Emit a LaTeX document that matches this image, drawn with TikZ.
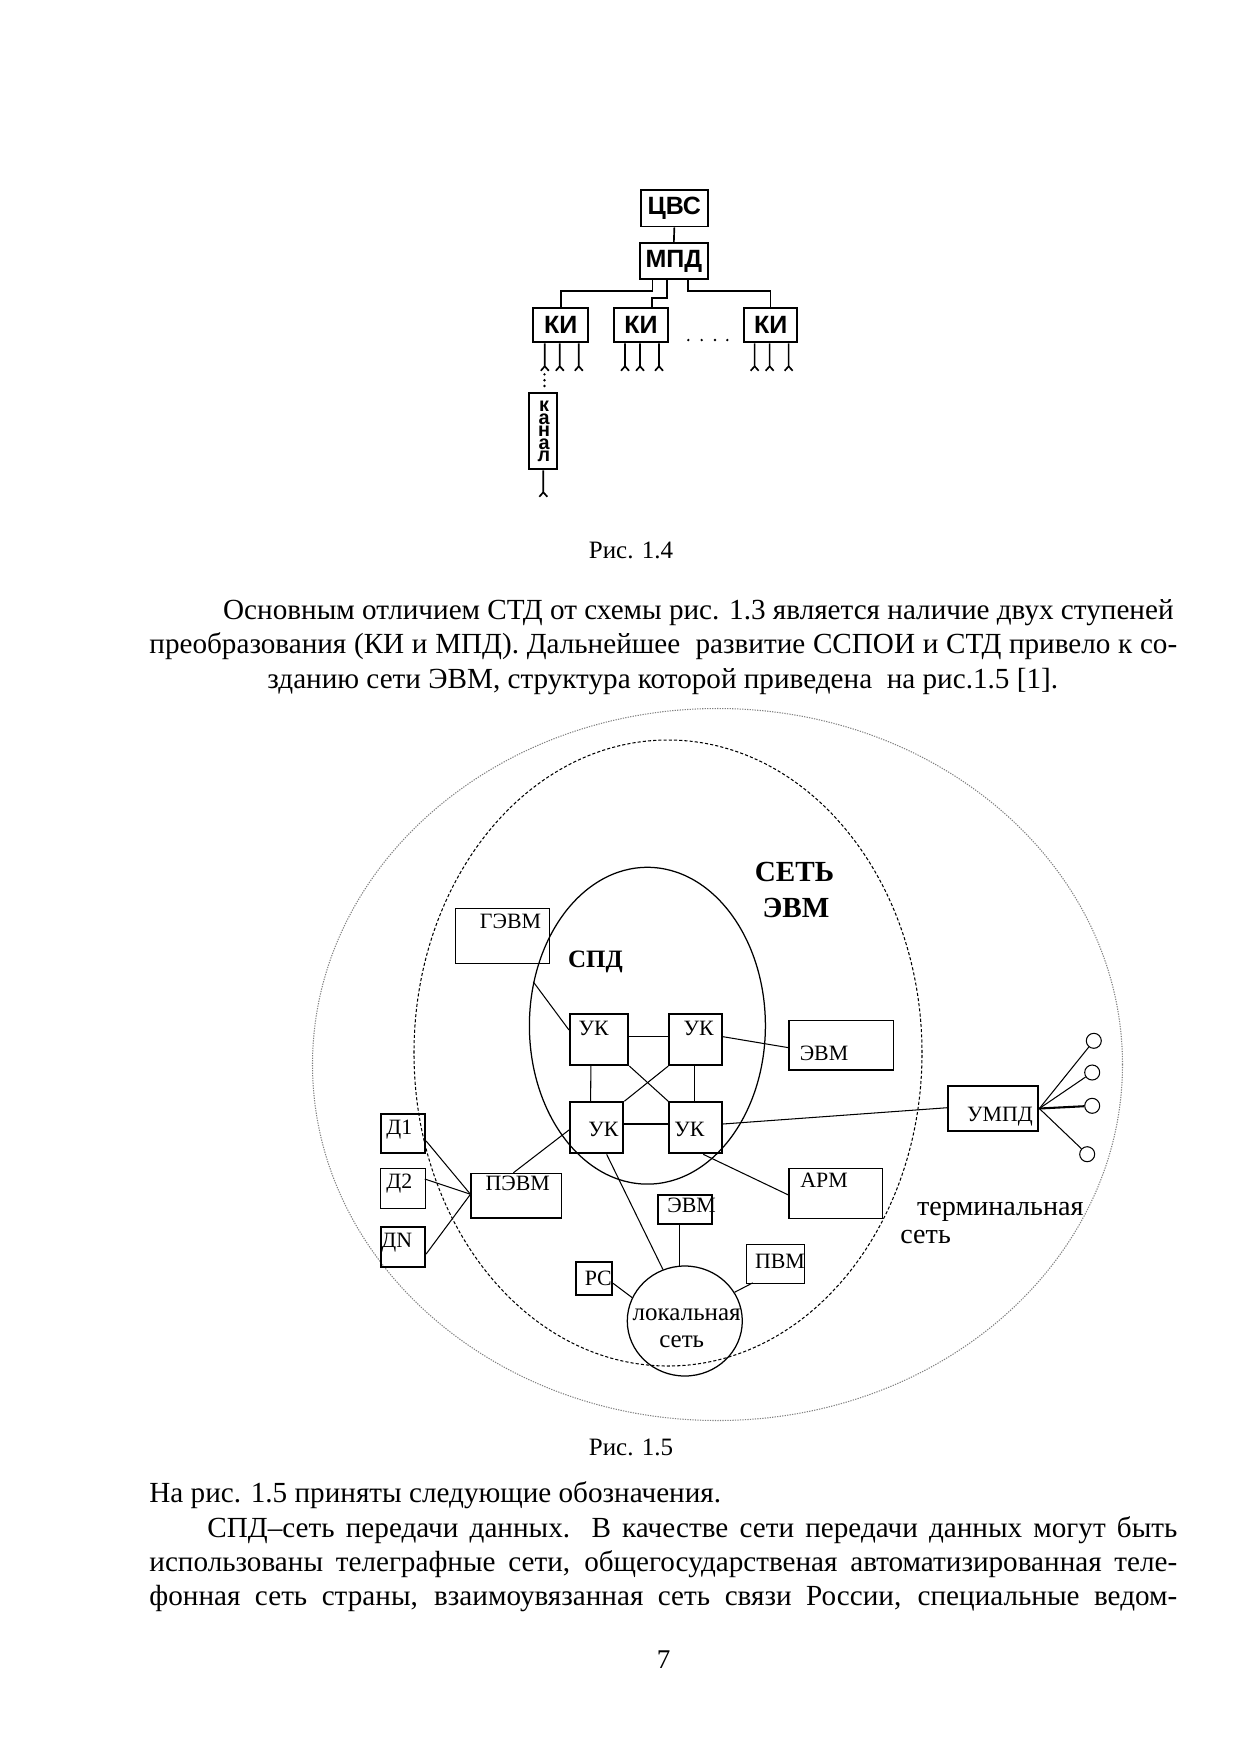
\documentclass[tikz,border=0pt]{standalone}
\usepackage{fontspec}
\setmainfont{Liberation Serif}
\newfontfamily\arialf{Liberation Sans}
\usetikzlibrary{shapes.geometric,fit,calc}
\begin{document}
\begin{tikzpicture}[x=0.48pt,y=-0.48pt,
  fbox/.style={draw,line width=0.9pt,inner sep=0pt},
  flbl/.style={inner sep=0pt,font=\arialf\bfseries\fontsize{12}{14}\selectfont},
  klbl/.style={inner sep=0pt,font=\arialf\bfseries\fontsize{9.5}{11}\selectfont},
  wire/.style={line width=0.8pt},
  box/.style={draw,line width=0.5pt,inner sep=0pt},
  ukbox/.style={draw,line width=1pt,inner sep=0pt},
  ln/.style={line width=0.5pt},
  lbl/.style={inner sep=0pt,font=\fontsize{10.5}{12}\selectfont},
  body/.style={inner sep=0pt,font=\fontsize{14}{16.6}\selectfont},
  term/.style={draw,circle,line width=0.5pt,inner sep=0pt,minimum size=7.2pt},
  dotc/.style={fill=black},
]
\fill[white] (0,0) rectangle (1240,1755);
\useasboundingbox (0,0) rectangle (1240,1755);

% ---------------- Fig 1.4 ----------------
\node[fbox, fit={(641,190) (707.7,226.5)}] (cvs) {};
\node[fbox, fit={(640,242.7) (707.7,279.3)}] (mpd) {};
\node[fbox, fit={(533.3,308.3) (588.3,342.3)}] (ki1) {};
\node[fbox, fit={(614.3,308.3) (667.7,342.3)}] (ki2) {};
\node[fbox, fit={(744,308.3) (797.3,342.3)}] (ki3) {};
\node[fbox, fit={(529.3,393.3) (557.3,469.3)}] (kanal) {};
\node[flbl] (lcvs) at (cvs.center) {ЦВС};
\node[flbl] (lmpd) at (mpd.center) {МПД};
\node[flbl] (lki1) at (ki1.center) {КИ};
\node[flbl] (lki2) at (ki2.center) {КИ};
\node[flbl] (lki3) at (ki3.center) {КИ};
\node[klbl] (k1) at (544,406.7) {к};
\node[klbl] (k2) at (544,419.3) {а};
\node[klbl] (k3) at (544,431.7) {н};
\node[klbl] (k4) at (544,444.3) {а};
\node[klbl] (k5) at (544,456.7) {л};

\draw[wire] (cvs.south) -- (mpd.north);
\draw[wire] ($(mpd.south)+(-21.2,0)$) -- ++(0,10.7) -| (ki1.north);
\draw[wire] ($(mpd.south)+(-6.85,0)$) -- ++(0,18) -| ($(ki2.north)+(11,0)$);
\draw[wire] ($(mpd.south)+(14.45,0)$) -- ++(0,10.7) -| (ki3.north);

\foreach \k in {ki1,ki2,ki3}{
  \foreach \dx in {-16,-1,18}{
    \draw[wire] ($(\k.south)+(\dx,0)$) -- ++(0,23) -- ++(-4,4.5) ++(4,-4.5) -- ++(4,4.5);
  }
}
\foreach \yy in {374.3,380.2,386}{\fill[dotc] (544.5,\yy) circle[radius=1.3];}
\foreach \xx in {688.3,701.7,715,727.3}{\fill[dotc] (\xx,340) circle[radius=1.3];}
\draw[wire] (kanal.south) -- ++(0,22) -- ++(-4,4.5) ++(4,-4.5) -- ++(4,4.5);

\node[inner sep=0pt,font=\fontsize{12}{14}\selectfont] (cap4) at (631,550.6) {Рис. 1.4};

% ---------------- paragraph ----------------
\node[body,anchor=base east] (p1) at (1174,619) {Основным отличием СТД от схемы рис. 1.3 является наличие двух ступеней};
\node[body,anchor=base west] (p2) at (149,653.5) {\makebox[493.4pt][s]{преобразования (КИ и МПД). Дальнейшее~ развитие ССПОИ и СТД привело к со-}};
\node[body,anchor=base west] (p3) at (267,688) {зданию сети ЭВМ, структура которой приведена~ на рис.1.5 [1].};

% ---------------- Fig 1.5 ----------------
\node[ellipse,draw=gray,line width=0.5pt,dash pattern=on 0.6pt off 0.6pt,inner sep=0pt,
      minimum width=388.8pt,minimum height=341.76pt] (outer) at (717.5,1064.5) {};
\node[ellipse,draw,line width=0.5pt,dash pattern=on 1.5pt off 1pt,inner sep=0pt,
      minimum width=243.84pt,minimum height=300.48pt] (cnet) at (668,1053) {};
\node[ellipse,draw,line width=0.6pt,inner sep=0pt,
      minimum width=113.28pt,minimum height=152.06pt] (spd) at (647.4,1025.7) {};
\node[ellipse,draw,line width=0.6pt,inner sep=0pt,
      minimum width=55.2pt,minimum height=52.8pt] (loc) at (684.8,1321) {};

\node[box, fit={(455.7,908.3) (549.3,963.3)}] (gevm) {};
\node[ukbox, fit={(570,1014.3) (628.3,1065)}] (uk1) {};
\node[ukbox, fit={(669.3,1014.3) (721.7,1065)}] (uk2) {};
\node[ukbox, fit={(570,1102.3) (623.3,1153.3)}] (uk3) {};
\node[ukbox, fit={(669.3,1102.3) (721.7,1153.3)}] (uk4) {};
\node[box, fit={(789,1020.7) (893.3,1070)}] (evm) {};
\node[ukbox, fit={(948.3,1086) (1038.3,1131)}] (umpd) {};
\node[box, fit={(789,1168.3) (882.7,1218.3)}] (arm) {};
\node[box, line width=0.8pt, fit={(380.7,1114.3) (425.3,1152.7)}] (d1) {};
\node[box, fit={(380.7,1168.3) (425.3,1208.3)}] (d2) {};
\node[box, line width=0.8pt, fit={(380.7,1226.7) (425.3,1267.3)}] (dn) {};
\node[box, fit={(471,1173.3) (561.7,1218)}] (pevm) {};
\node[box, line width=0.8pt, fit={(658.3,1195) (711.7,1224)}] (evm2) {};
\node[box, line width=0.8pt, fit={(575.7,1261.7) (612.3,1295)}] (pc) {};
\node[box, fit={(746.7,1244.3) (804.3,1283.3)}] (pvm) {};

\node[term] (c1) at (1093.8,1040.8) {};
\node[term] (c2) at (1092.2,1072.5) {};
\node[term] (c3) at (1092.2,1105.8) {};
\node[term] (c4) at (1087.2,1154.2) {};

% connectors
\draw[ln] (spd.159) -- ($(uk1.west)+(0,-9.7)$);
\draw[ln] ($(uk1.east)+(0,-3)$) -- ($(uk2.west)+(0,-3)$);
\draw[ln] ($(uk3.east)+(0,-3.8)$) -- ($(uk4.west)+(0,-3.8)$);
\draw[ln] ($(uk1.south)+(-8.3,0)$) -- ($(uk3.north)+(-6,0)$);
\draw[ln] ($(uk2.south)+(-1.2,0)$) -- ($(uk4.north)+(-1.2,0)$);
\draw[ln] (uk1.south east) -- (uk4.north west);
\draw[ln] (uk2.south west) -- (uk3.north east);
\draw[ln] ($(uk2.east)+(0,-3)$) -- ($(evm.west)+(0,2.3)$);
\draw[ln] ($(uk4.east)+(0,-3.8)$) -- ($(umpd.west)+(0,-0.8)$);
\draw[ln] ($(uk4.south)+(7.8,0)$) -- ($(arm.west)+(0,1.7)$);
\draw[ln] ($(pevm.north)+(-3,0)$) -- ($(uk3.west)+(0,2.2)$);
\draw[ln] ($(d1.east)+(0,7.5)$) -- ($(pevm.west)+(0,-1.4)$);
\draw[ln] ($(d2.east)+(-1,-9.3)$) -- ($(pevm.west)+(0,-1.4)$);
\draw[ln] ($(dn.east)+(0,7)$) -- ($(pevm.west)+(0,-1.4)$);
\draw[ln] ($(uk3.south)+(10,0)$) -- (loc.113);
\draw[ln] ($(evm2.south)+(-5.7,0)$) -- ($(loc.north)+(-5.5,0.3)$);
\draw[ln] ($(pc.east)+(0,5)$) -- (loc.156);
\draw[ln] ($(pvm.south west)+(6.6,-1)$) -- (loc.30);
\draw[ln] (umpd.east) -- (c1);
\draw[ln] (umpd.east) -- (c2);
\draw[line width=1pt] (umpd.east) -- (c3);
\draw[ln] (umpd.east) -- (c4);

% labels
\node[lbl] (lgevm) at (510.5,921.7) {ГЭВМ};
\node[inner sep=0pt,font=\bfseries\fontsize{12}{14}\selectfont] (lspd) at (595.5,961.7) {СПД};
\node[inner sep=0pt,font=\bfseries\fontsize{14}{16}\selectfont] (lset) at (794.5,871.7) {СЕТЬ};
\node[inner sep=0pt,font=\bfseries\fontsize{14}{16}\selectfont] (lsevm) at (796,908.3) {ЭВМ};
\node[lbl] (luk1) at (593.7,1028.3) {УК};
\node[lbl] (luk2) at (698.7,1028) {УК};
\node[lbl] (luk3) at (603.3,1129) {УК};
\node[lbl] (luk4) at (689.3,1129) {УК};
\node[lbl] (levm) at (824,1053) {ЭВМ};
\node[lbl] (lumpd) at (1000,1116.7) {УМПД};
\node[lbl] (larm) at (824,1180) {АРМ};
\node[lbl] (ld1) at (399.3,1129.3) {Д1};
\node[lbl] (ld2) at (399.3,1184) {Д2};
\node[lbl] (ldn) at (396.7,1242.7) {ДN};
\node[lbl] (lpevm) at (517.7,1183.3) {ПЭВМ};
\node[lbl] (levm2) at (691.7,1205) {ЭВМ};
\node[lbl] (lpc) at (598.3,1278.3) {PC};
\node[lbl] (lpvm) at (780,1261) {ПВМ};
\node[inner sep=0pt,font=\fontsize{12}{14}\selectfont] (lloc1) at (686.7,1315) {локальная};
\node[inner sep=0pt,font=\fontsize{12}{14}\selectfont] (lloc2) at (681.7,1341.7) {сеть};
\node[inner sep=0pt,anchor=base west,font=\fontsize{13.5}{16}\selectfont] (lterm1) at (916.7,1215) {терминальная};
\node[inner sep=0pt,anchor=base west,font=\fontsize{13.5}{16}\selectfont] (lterm2) at (900,1243) {сеть};

\node[inner sep=0pt,font=\fontsize{12}{14}\selectfont] (cap5) at (631,1447) {Рис. 1.5};

% ---------------- bottom paragraph ----------------
\node[body,anchor=base west] (q1) at (149,1502) {На рис. 1.5 приняты следующие обозначения.};
\node[body,anchor=base west] (q2) at (207,1537) {\makebox[465.6pt][s]{СПД–сеть передачи данных. В качестве сети передачи данных могут быть}};
\node[body,anchor=base west] (q3) at (149,1571) {\makebox[493.4pt][s]{использованы телеграфные сети, общегосударственая автоматизированная теле-}};
\node[body,anchor=base west] (q4) at (149,1605) {\makebox[493.4pt][s]{фонная сеть страны, взаимоувязанная сеть связи России, специальные ведом-}};

\node[inner sep=0pt,font=\fontsize{13}{15}\selectfont] (pnum) at (663.6,1659.6) {7};
\end{tikzpicture}
\end{document}
